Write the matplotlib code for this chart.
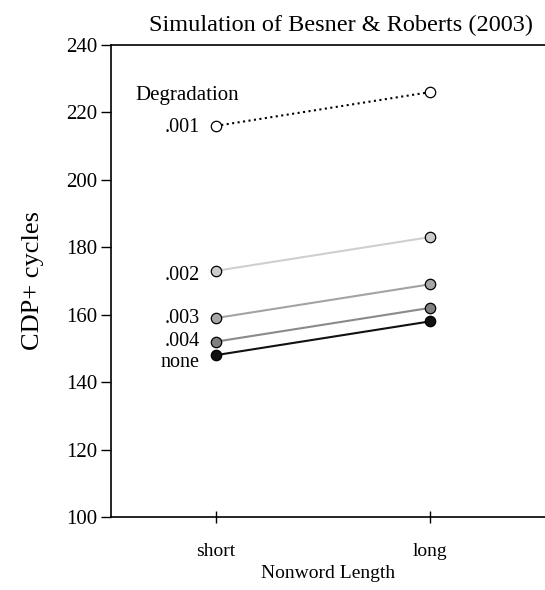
import matplotlib.pyplot as plt

plt.rcParams['font.family'] = ['Liberation Serif', 'DejaVu Serif']

conditions = ["short", "long"]
levels = [".001", ".002", ".003", ".004", "none"]
cycles = {
    ".001": [216, 226],
    ".002": [173, 183],
    ".003": [159, 169],
    ".004": [152, 162],
    "none": [148, 158],
}

styles = {
    ".001": dict(color="black", ls=":", lw=1.5, mfc="white"),
    ".002": dict(color="#cfcfcf", ls="-", lw=1.5, mfc="#cccccc"),
    ".003": dict(color="#a3a3a3", ls="-", lw=1.5, mfc="#a6a6a6"),
    ".004": dict(color="#8a8a8a", ls="-", lw=1.5, mfc="#808080"),
    "none": dict(color="#111111", ls="-", lw=1.5, mfc="#111111"),
}
label_dy = {".001": -0.5, ".002": -1.5, ".003": 0, ".004": 0.2, "none": -2.2}

fig = plt.figure(figsize=(5.45, 5.90), dpi=100)
ax = fig.add_axes([111 / 545, 1 - 517 / 590, 1 - 111 / 545, 472 / 590])

x = list(range(len(conditions)))
for lev in levels:
    st = styles[lev]
    ax.plot(x, cycles[lev], color=st["color"], ls=st["ls"], lw=st["lw"],
            marker="o", ms=7.5, mfc=st["mfc"], mec="black", mew=0.9)
    ax.text(-0.075, cycles[lev][0] + label_dy[lev], lev, ha="right", va="center", fontsize=14.5)

ax.text(-0.375, 225, "Degradation", ha="left", va="center", fontsize=15)

ax.set_xlim(-0.49, 1.54)
ax.set_ylim(100, 240)
ax.set_yticks(range(100, 241, 20))
ax.set_xticks(x)
ax.set_xticklabels(conditions)
ax.tick_params(axis="y", direction="out", length=7, width=1, labelsize=15, pad=3)
ax.tick_params(axis="x", direction="inout", length=9, width=1, labelsize=14, pad=14)
ax.spines["right"].set_visible(False)
for s in ["left", "top", "bottom"]:
    ax.spines[s].set_linewidth(1.2)

ax.set_xlabel("Nonword Length", fontsize=14, labelpad=4)
ax.set_ylabel("CDP+ cycles", fontsize=19, labelpad=16)
fig.text(341 / 545, 1 - 25 / 590, "Simulation of Besner & Roberts (2003)",
         ha="center", va="center", fontsize=17.5)

fig.savefig("out.png", dpi=100)
